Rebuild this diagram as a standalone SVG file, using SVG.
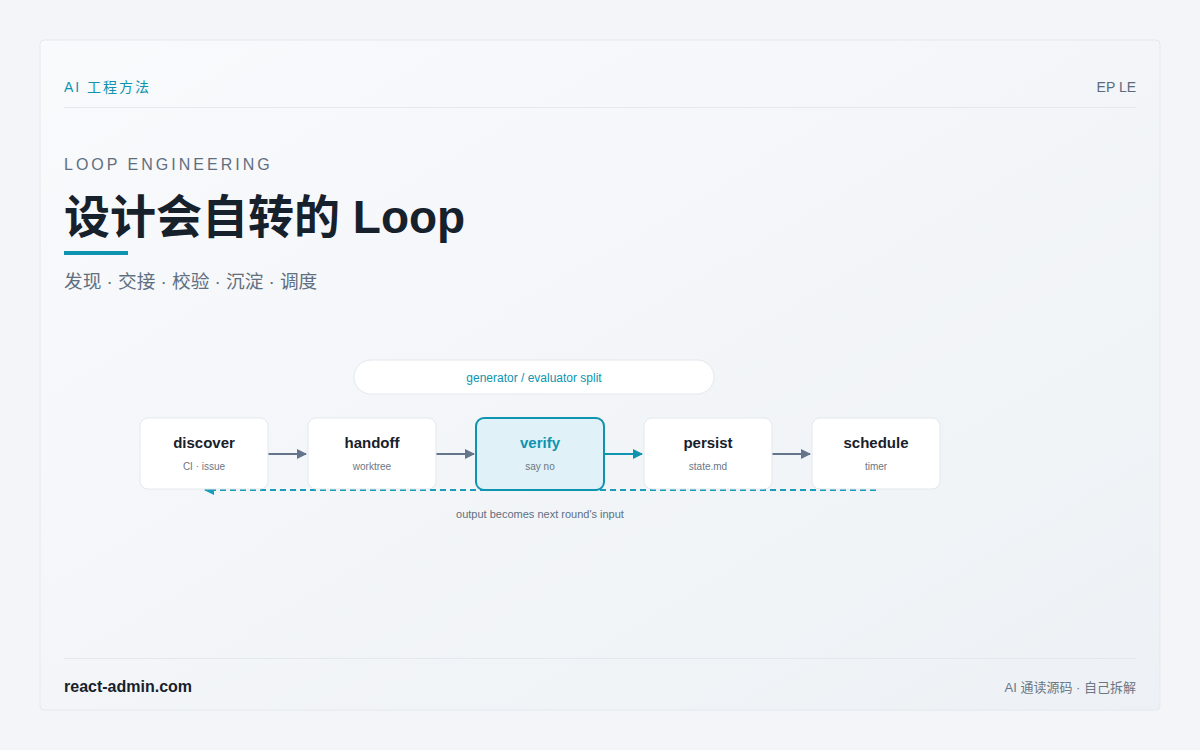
<svg xmlns="http://www.w3.org/2000/svg" width="1200" height="750" viewBox="0 0 1200 750">
<defs>
<linearGradient id="card" x1="0" y1="0" x2="1" y2="1">
<stop offset="0" stop-color="#f9fafc"/>
<stop offset="1" stop-color="#edf1f5"/>
</linearGradient>
<marker id="ag" viewBox="0 0 10 10" refX="9" refY="5" markerWidth="10" markerHeight="10" markerUnits="userSpaceOnUse" orient="auto"><path d="M0,0 L10,5 L0,10 z" fill="#64748b"/></marker>
<marker id="at" viewBox="0 0 10 10" refX="9" refY="5" markerWidth="10" markerHeight="10" markerUnits="userSpaceOnUse" orient="auto"><path d="M0,0 L10,5 L0,10 z" fill="#0e93b0"/></marker>
<marker id="ad" viewBox="0 0 10 10" refX="9" refY="5" markerWidth="10" markerHeight="10" markerUnits="userSpaceOnUse" orient="auto"><path d="M0,0 L10,5 L0,10 z" fill="#1a9dba"/></marker>
</defs>
<style>
text{font-family:"Liberation Sans","Noto Sans CJK SC",sans-serif}
.box{fill:#ffffff;stroke:#e3e8ee;stroke-width:1}
.hl{fill:#e0f1f7;stroke:#0e93b0;stroke-width:2}
.t{font-size:15px;font-weight:700;fill:#17212b;text-anchor:middle}
.s{font-size:10px;fill:#6b7785;text-anchor:middle}
.e{stroke:#64748b;stroke-width:2;fill:none}
</style>
<rect x="0" y="0" width="1200" height="750" fill="#f3f5f8"/>
<rect x="40" y="40" width="1120" height="670" rx="4" fill="url(#card)" stroke="#e3e8ee"/>
<g id="header">
<text x="64" y="92" font-size="14" letter-spacing="2" fill="#0e93b0">AI 工程方法</text>
<text x="1136" y="92" font-size="14" fill="#5a6b7d" text-anchor="end">EP LE</text>
<line x1="64" y1="107.5" x2="1136" y2="107.5" stroke="#e5e9ee"/>
</g>
<g id="titles">
<text x="64" y="170" font-size="16" letter-spacing="3" fill="#5f6f80">LOOP ENGINEERING</text>
<text x="64" y="233" font-size="46" font-weight="700" fill="#17212b">设计会自转的 Loop</text>
<rect x="64" y="251" width="64" height="4" fill="#0e93b0"/>
<text x="64" y="288" font-size="18.7" fill="#5f6f80">发现 · 交接 · 校验 · 沉淀 · 调度</text>
</g>
<g id="pill">
<rect x="354" y="360" width="360" height="34" rx="17" fill="#ffffff" stroke="#e3e8ee"/>
<text x="534" y="382" font-size="12" fill="#0e93b0" text-anchor="middle">generator / evaluator split</text>
</g>
<g id="connectors">
<line x1="876" y1="490" x2="205" y2="490" stroke="#1a9dba" stroke-width="2" stroke-dasharray="6 4" marker-end="url(#ad)"/>
<line class="e" x1="268" y1="454" x2="306" y2="454" marker-end="url(#ag)"/>
<line class="e" x1="436" y1="454" x2="474" y2="454" marker-end="url(#ag)"/>
<line x1="604" y1="454" x2="642" y2="454" stroke="#0e93b0" stroke-width="2" marker-end="url(#at)"/>
<line class="e" x1="772" y1="454" x2="810" y2="454" marker-end="url(#ag)"/>
<text x="540" y="518" font-size="11" fill="#5f6f80" text-anchor="middle">output becomes next round's input</text>
</g>
<g id="discover"><rect class="box" x="140" y="418" width="128" height="71" rx="8"/><text class="t" x="204" y="448">discover</text><text class="s" x="204" y="470">CI · issue</text></g>
<g id="handoff"><rect class="box" x="308" y="418" width="128" height="71" rx="8"/><text class="t" x="372" y="448">handoff</text><text class="s" x="372" y="470">worktree</text></g>
<g id="verify"><rect class="hl" x="476" y="418" width="128" height="72" rx="8"/><text class="t" x="540" y="448" style="fill:#0e93b0">verify</text><text class="s" x="540" y="470">say no</text></g>
<g id="persist"><rect class="box" x="644" y="418" width="128" height="71" rx="8"/><text class="t" x="708" y="448">persist</text><text class="s" x="708" y="470">state.md</text></g>
<g id="schedule"><rect class="box" x="812" y="418" width="128" height="71" rx="8"/><text class="t" x="876" y="448">schedule</text><text class="s" x="876" y="470">timer</text></g>
<g id="footer">
<line x1="64" y1="658.5" x2="1136" y2="658.5" stroke="#e3e8ee"/>
<text x="64" y="692" font-size="16" font-weight="700" fill="#17212b">react-admin.com</text>
<text x="1136" y="692" font-size="13" fill="#6b7785" text-anchor="end">AI 通读源码 · 自己拆解</text>
</g>
</svg>
